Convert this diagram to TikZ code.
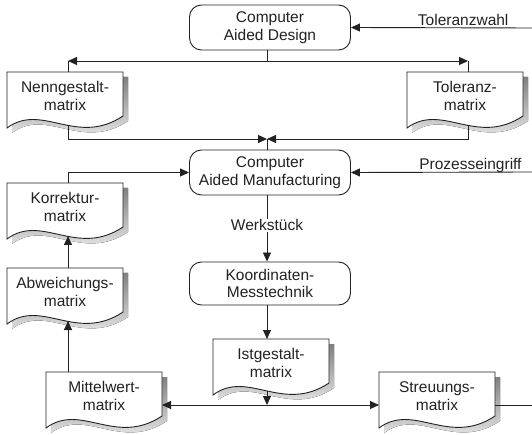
\documentclass[tikz,border=0pt]{standalone}
\usepackage{fontspec}
\setmainfont{Liberation Sans}
\usetikzlibrary{arrows.meta,calc}
\definecolor{ink}{HTML}{222222}
\definecolor{shade}{HTML}{ABABAB}
\newcommand\txt{\fontsize{15.5}{17.5}\selectfont}
\tikzset{
  conn/.style={draw=ink, line width=0.9pt},
  arr/.style={conn, -{Triangle[length=9pt,width=8pt]}},
  procbox/.style={draw=ink, line width=0.9pt, rounded corners=12pt,
    minimum width=161pt, minimum height=45pt, align=center,
    font=\txt, text=ink, fill=white},
  doctext/.style={align=center, font=\txt, text=ink, inner sep=0pt},
  lbl/.style={font=\txt, text=ink, inner sep=1pt},
}
% document symbol with drop shadow: name, left x, top y, text
\newcommand\docshape[4]{%
  \begin{scope}[shift={(#2,#3)}]
    \fill[shade] (5,5) -- (121,5) -- (121,49)
      .. controls (74.6,80) and (39.8,35) .. (5,61) -- cycle;
    \draw[draw=ink, line width=0.9pt, fill=white] (0,0) -- (116,0) -- (116,44)
      .. controls (69.6,75) and (34.8,30) .. (0,56) -- cycle;
    \node[doctext] (#1) at (58,24) {#4};
    \coordinate (#1-nw) at (0,0);
    \coordinate (#1-top) at (61,0);
    \coordinate (#1-foot) at (61,53);
    \coordinate (#1-left) at (0,33);
    \coordinate (#1-right) at (116,33);
  \end{scope}}
\begin{document}
\begin{tikzpicture}[x=1pt,y=-1pt]
\useasboundingbox (0,0) rectangle (532,435);

% process boxes
\node[procbox] (cad) at (270,27.5) {Computer\\Aided Design};
\node[procbox] (cam) at (270,172.5) {Computer\\Aided Manufacturing};
\node[procbox, minimum height=43pt] (koord) at (270,283.5) {Koordinaten-\\Messtechnik};

% documents
\docshape{nenn}{7}{72}{Nenngestalt-\\matrix}
\docshape{tol}{407}{72}{Toleranz-\\matrix}
\docshape{korr}{7}{183}{Korrektur-\\matrix}
\docshape{abw}{7}{268}{Abweichungs-\\matrix}
\docshape{ist}{213}{339}{Istgestalt-\\matrix}
\docshape{mittel}{46}{372}{Mittelwert-\\matrix}
\docshape{streu}{379}{372}{Streuungs-\\matrix}

% junctions and open ends
\coordinate (topsplit) at (267,61);
\coordinate (merge) at (267,139);
\coordinate (lowsplit) at (267,405);
\coordinate (tolin) at (532,28);
\coordinate (prozin) at (532,172);
\coordinate (streuout) at (532,405);

% CAD -> tolerance and nominal shape
\draw[conn] (cad.south -| topsplit) -- (topsplit);
\draw[arr] (topsplit) -- (topsplit -| nenn-top);
\draw[conn] (topsplit -| nenn-top) -- (nenn-top);
\draw[arr] (topsplit) -- (topsplit -| tol-top);
\draw[conn] (topsplit -| tol-top) -- (tol-top);

% both matrices -> CAM
\draw[arr] (nenn-foot) |- (merge);
\draw[arr] (tol-foot) |- (merge);
\draw[conn] (merge) -- (merge |- cam.north);

% external inputs
\draw[arr] (tolin) -- node[lbl, pos=0.38, anchor=base, yshift=2.5pt] (tolwahl) {Toleranzwahl} (cad.east);
\draw[arr] (prozin) -- node[lbl, pos=0.34, anchor=base, yshift=2.5pt] (prozess) {Prozesseingriff} (cam.east);

% measurement chain
\draw[arr] (cam.south -| merge) -- node[lbl, fill=white, pos=0.45] (werk) {Werkstück} (koord.north -| merge);
\draw[arr] (koord.south -| merge) -- (merge |- ist-nw);
\draw[arr] ($(merge |- ist-nw)+(0,52)$) -- (lowsplit);
\draw[arr] (lowsplit) -- (mittel-right);
\draw[arr] (lowsplit) -- (streu-left);
\draw[conn] (streu-right) -- (streuout);

% feedback to CAM
\draw[arr] (abw-foot |- mittel-nw) -- (abw-foot);
\draw[arr] (abw-top) -- (korr-foot);
\draw[arr] (korr-top) |- (cam.west);
\end{tikzpicture}
\end{document}
